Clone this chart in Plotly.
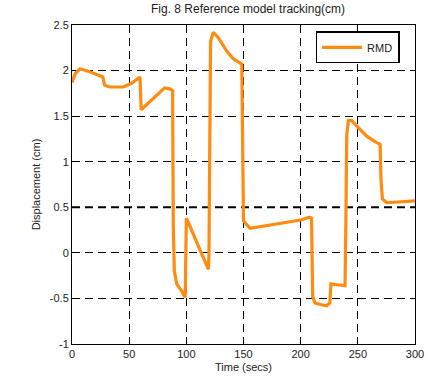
import plotly.graph_objects as go

time_s = [0, 3, 7, 15, 27, 28.5, 33, 45, 52, 59.5, 60.5, 70, 81, 85.5, 88, 88.6, 89.5, 91.6, 96, 99, 100, 100.8, 110, 119.3,
          119.8, 120.5, 121.2, 123.6, 128, 135, 141, 148.5, 149.2, 150, 155.7, 170, 185, 200, 208, 209.5, 210.5, 212.6, 218,
          222.8, 225.5, 226.5, 232, 238.8, 239.5, 240.3, 241.8, 244.7, 250, 257.8, 265, 269.5, 270.3, 271.5, 275.3, 290, 300]
rmd_cm = [1.87, 1.97, 2.02, 1.99, 1.93, 1.84, 1.82, 1.82, 1.86, 1.93, 1.57, 1.68, 1.81, 1.80, 1.78, 0.30, -0.20, -0.34, -0.42, -0.49, 0.38, 0.36, 0.10, -0.18,
          -0.02, 1.70, 2.32, 2.42, 2.36, 2.22, 2.13, 2.07, 0.60, 0.35, 0.27, 0.30, 0.33, 0.36, 0.39, 0.38, -0.48, -0.55, -0.57,
          -0.58, -0.55, -0.34, -0.35, -0.36, 0.30, 1.30, 1.45, 1.45, 1.38, 1.28, 1.22, 1.19, 0.80, 0.59, 0.55, 0.56, 0.57]

x_ticks = [0, 50, 100, 150, 200, 250, 300]
y_ticks = [-1, -0.5, 0, 0.5, 1, 1.5, 2, 2.5]

fig = go.Figure()
fig.add_trace(go.Scatter(x=time_s, y=rmd_cm, mode="lines", name="RMD",
                         line=dict(color="#FF8C10", width=3.2)))

axis_common = dict(showline=True, linecolor="black", linewidth=1, mirror="allticks",
                   ticks="inside", ticklen=4, tickcolor="black", showgrid=True,
                   gridcolor="black", griddash="8px,5px", gridwidth=1, zeroline=False,
                   tickfont=dict(size=11, color="#222"))
fig.update_xaxes(range=[0, 300], tickvals=x_ticks, title=dict(text="Time (secs)", font=dict(size=11, color="#222"), standoff=4), **axis_common)
fig.update_yaxes(range=[-1, 2.5], tickvals=y_ticks, ticktext=[str(v) for v in y_ticks],
                 title=dict(text="Displacement (cm)", font=dict(size=11, color="#222"), standoff=6), **axis_common)

fig.add_shape(type="line", xref="paper", yref="y", x0=0, x1=1, y0=0.5, y1=0.5,
              line=dict(color="black", width=2, dash="8px,5px"), layer="below")

fig.update_layout(
    width=439, height=383,
    margin=dict(l=72, r=24, t=25, b=39),
    paper_bgcolor="white", plot_bgcolor="white",
    font=dict(family="Liberation Sans, Arial, sans-serif", color="#222"),
    title=dict(text="Fig. 8 Reference model tracking(cm)", x=0.565, xanchor="center", y=0.988, yanchor="top",
               font=dict(size=12, color="#222")),
    showlegend=True,
    legend=dict(x=0.71, y=0.98, xanchor="left", yanchor="top", bgcolor="white",
                bordercolor="black", borderwidth=1.5, font=dict(size=11),
                itemwidth=40),
)

fig.write_html("out.html")
